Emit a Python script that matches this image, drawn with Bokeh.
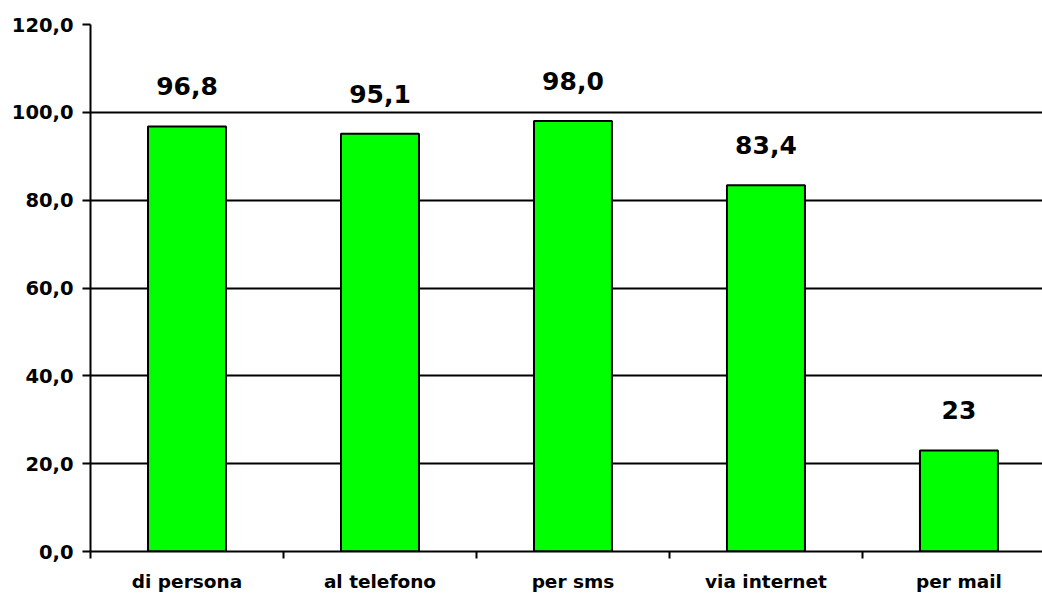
from bokeh.plotting import figure
from bokeh.models import ColumnDataSource, FixedTicker, Range1d
from bokeh.core.properties import value
from bokeh.embed import file_html
from bokeh.resources import INLINE

categories = ["di persona", "al telefono", "per sms", "via internet", "per mail"]
values = [96.8, 95.1, 98.0, 83.4, 23.0]
value_labels = ["96,8", "95,1", "98,0", "83,4", "23"]
y_ticks = [0, 20, 40, 60, 80, 100, 120]
y_tick_labels = ["0,0", "20,0", "40,0", "60,0", "80,0", "100,0", "120,0"]

centers = [i + 0.5 for i in range(len(categories))]
src = ColumnDataSource(dict(x=centers, top=values, lab=value_labels))

p = figure(width=1042, height=594, output_backend="svg", toolbar_location=None,
           x_range=Range1d(0, 4.933), y_range=Range1d(0, 120),
           min_border_left=90, min_border_right=0, min_border_top=24, min_border_bottom=43)
p.outline_line_color = None
p.background_fill_color = "white"

p.vbar(x="x", top="top", bottom=0, width=0.404, source=src,
       fill_color="#00FF00", line_color="black", line_width=2)
p.text(x="x", y="top", text="lab", source=src, y_offset=-40,
       text_align="center", text_baseline="middle",
       text_font=value("DejaVu Sans"), text_font_style="bold",
       text_font_size="25px", text_color="black")

# y axis
p.yaxis.ticker = FixedTicker(ticks=y_ticks)
p.yaxis.major_label_overrides = {t: l for t, l in zip(y_ticks, y_tick_labels)}
p.yaxis.axis_line_width = 2
p.yaxis.major_tick_line_width = 2
p.yaxis.major_tick_out = 8
p.yaxis.major_tick_in = 0
p.yaxis.minor_tick_line_color = None
p.yaxis.major_label_standoff = 9
p.yaxis.major_label_text_font = "DejaVu Sans"
p.yaxis.major_label_text_font_style = "bold"
p.yaxis.major_label_text_font_size = "19.5px"
p.yaxis.major_label_text_color = "black"

# x axis
p.xaxis.ticker = FixedTicker(ticks=centers, minor_ticks=[0, 1, 2, 3, 4, 5])
p.xaxis.major_label_overrides = {c: n for c, n in zip(centers, categories)}
p.xaxis.axis_line_width = 2
p.xaxis.major_tick_out = 0
p.xaxis.major_tick_in = 0
p.xaxis.major_tick_line_color = None
p.xaxis.minor_tick_out = 7
p.xaxis.minor_tick_in = 0
p.xaxis.minor_tick_line_width = 2
p.xaxis.minor_tick_line_color = "black"
p.xaxis.major_label_standoff = 12
p.xaxis.major_label_text_font = "DejaVu Sans"
p.xaxis.major_label_text_font_style = "bold"
p.xaxis.major_label_text_font_size = "18.5px"
p.xaxis.major_label_text_color = "black"

p.xgrid.grid_line_color = None
p.ygrid.ticker = FixedTicker(ticks=y_ticks)
p.ygrid.grid_line_color = "black"
p.ygrid.grid_line_width = 2

open("out.html", "w").write(file_html(p, INLINE))
